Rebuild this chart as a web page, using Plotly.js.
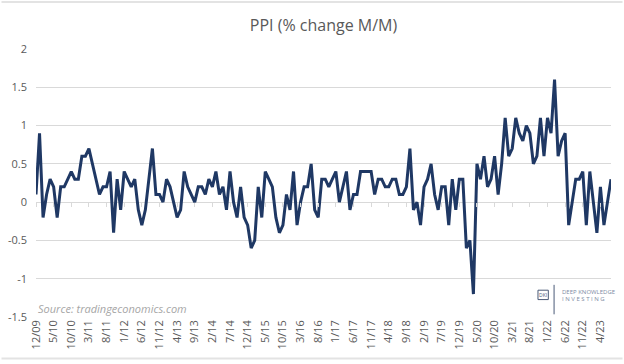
<!DOCTYPE html>
<html>
<head>
<meta charset="utf-8">
<script src="https://cdn.plot.ly/plotly-3.0.1.min.js"></script>
<style>html,body{margin:0;padding:0;background:#fff;}#chart{width:624px;height:364px;}</style>
</head>
<body>
<div id="chart"></div>
<script>
// Monthly categories, 12/09 .. 7/23
var months = [
 "12/09",
 "1/10","2/10","3/10","4/10","5/10","6/10","7/10","8/10","9/10","10/10","11/10","12/10",
 "1/11","2/11","3/11","4/11","5/11","6/11","7/11","8/11","9/11","10/11","11/11","12/11",
 "1/12","2/12","3/12","4/12","5/12","6/12","7/12","8/12","9/12","10/12","11/12","12/12",
 "1/13","2/13","3/13","4/13","5/13","6/13","7/13","8/13","9/13","10/13","11/13","12/13",
 "1/14","2/14","3/14","4/14","5/14","6/14","7/14","8/14","9/14","10/14","11/14","12/14",
 "1/15","2/15","3/15","4/15","5/15","6/15","7/15","8/15","9/15","10/15","11/15","12/15",
 "1/16","2/16","3/16","4/16","5/16","6/16","7/16","8/16","9/16","10/16","11/16","12/16",
 "1/17","2/17","3/17","4/17","5/17","6/17","7/17","8/17","9/17","10/17","11/17","12/17",
 "1/18","2/18","3/18","4/18","5/18","6/18","7/18","8/18","9/18","10/18","11/18","12/18",
 "1/19","2/19","3/19","4/19","5/19","6/19","7/19","8/19","9/19","10/19","11/19","12/19",
 "1/20","2/20","3/20","4/20","5/20","6/20","7/20","8/20","9/20","10/20","11/20","12/20",
 "1/21","2/21","3/21","4/21","5/21","6/21","7/21","8/21","9/21","10/21","11/21","12/21",
 "1/22","2/22","3/22","4/22","5/22","6/22","7/22","8/22","9/22","10/22","11/22","12/22",
 "1/23","2/23","3/23","4/23","5/23","6/23","7/23"
];

// PPI % change M/M
var ppi = [
 0.1,
 0.9,-0.2,0.1,0.3,0.2,-0.2,0.2,0.2,0.3,0.4,0.3,0.3,
 0.6,0.6,0.7,0.5,0.3,0.1,0.2,0.2,0.4,-0.4,0.3,-0.1,
 0.4,0.3,0.2,0.3,-0.1,-0.3,-0.1,0.3,0.7,0.1,0.1,0.0,
 0.3,0.2,0.0,-0.2,-0.1,0.4,0.2,0.1,0.0,0.2,0.2,0.1,
 0.3,0.2,0.4,0.1,0.2,-0.1,0.4,0.0,-0.2,0.2,-0.2,-0.3,
 -0.6,-0.5,0.2,-0.2,0.4,0.3,0.2,-0.2,-0.4,-0.3,0.1,-0.1,
 0.4,-0.3,0.0,0.2,0.2,0.5,-0.1,-0.2,0.3,0.3,0.2,0.3,
 0.4,0.0,0.2,0.4,-0.1,0.1,0.1,0.4,0.4,0.4,0.4,0.1,
 0.3,0.3,0.2,0.2,0.3,0.3,0.1,0.1,0.2,0.7,-0.1,0.0,
 -0.3,0.2,0.3,0.5,0.1,-0.1,0.2,0.2,-0.3,0.3,-0.1,0.3,
 0.3,-0.6,-0.5,-1.2,0.5,0.3,0.6,0.2,0.3,0.6,0.1,0.5,
 1.1,0.6,0.7,1.1,0.9,0.8,1.0,0.9,0.5,0.6,1.1,0.6,
 1.1,0.9,1.6,0.6,0.8,0.9,-0.3,0.0,0.3,0.3,0.4,-0.3,
 0.4,0.0,-0.4,0.2,-0.3,0.0,0.3
];

var tickLabels = ["12/09","5/10","10/10","3/11","8/11","1/12","6/12","11/12","4/13","9/13","2/14","7/14","12/14","5/15","10/15","3/16","8/16","1/17","6/17","11/17","4/18","9/18","2/19","7/19","12/19","5/20","10/20","3/21","8/21","1/22","6/22","11/22","4/23"];
var yTicks = [-1.5,-1,-0.5,0,0.5,1,1.5,2];
var yTickText = ["-1.5","-1","-0.5","0","0.5","1","1.5","2"];

var grey = "#595959";
var font = "Open Sans, Lato, sans-serif";

var traces = [
  {x: months, y: ppi, type: "scatter", mode: "lines", xaxis: "x", yaxis: "y",
   line: {color: "#1F3864", width: 3}, hoverinfo: "skip", showlegend: false},
  {x: months, y: ppi, type: "scatter", mode: "lines", xaxis: "x2", yaxis: "y",
   line: {color: "rgba(0,0,0,0)", width: 0}, hoverinfo: "skip", showlegend: false}
];

var layout = {
  width: 624, height: 364,
  margin: {l: 36, r: 13, t: 49, b: 47},
  paper_bgcolor: "#ffffff", plot_bgcolor: "#ffffff",
  font: {family: font, color: grey, size: 11},
  title: {text: "PPI (% change M/M)", x: 0.5, xanchor: "center", y: 0.93, yanchor: "middle",
          xref: "paper", font: {family: font, size: 16, color: grey}},
  xaxis: {type: "category", categoryorder: "array", categoryarray: months,
          range: [0, months.length - 1], tickmode: "array", tickvals: tickLabels, ticktext: tickLabels,
          tickangle: -90, showgrid: false, zeroline: false, showline: false, ticks: "",
          tickfont: {family: font, size: 11, color: grey}, fixedrange: true},
  xaxis2: {type: "category", categoryorder: "array", categoryarray: months, overlaying: "x",
           matches: "x", anchor: "free", position: 1.5/3.5, side: "bottom",
           range: [0, months.length - 1], tickmode: "array", tickvals: tickLabels,
           showticklabels: false, ticks: "outside", ticklen: 4, tickwidth: 1, tickcolor: "#d9d9d9",
           showgrid: false, zeroline: false, showline: false},
  yaxis: {range: [-1.5, 2], tickmode: "array", tickvals: yTicks, ticktext: yTickText,
          showgrid: true, gridcolor: "#d9d9d9", gridwidth: 1, zeroline: true, zerolinecolor: "#d9d9d9",
          zerolinewidth: 1, showline: false, ticks: "", ticklabelstandoff: 8,
          tickfont: {family: font, size: 11, color: grey}, fixedrange: true},
  shapes: [
    {type: "line", xref: "paper", yref: "paper", x0: -0.06, x1: 1.02, y0: 1.175, y1: 1.175,
     line: {color: "#e3e3e3", width: 2}},
    {type: "line", xref: "paper", yref: "paper", x0: -0.06, x1: 1.02, y0: -0.155, y1: -0.155,
     line: {color: "#e3e3e3", width: 2}},
    {type: "rect", xref: "paper", yref: "paper", x0: 0.873, x1: 0.891, y0: 0.065, y1: 0.10,
     line: {color: "#4a5a78", width: 1}},
    {type: "line", xref: "paper", yref: "paper", x0: 0.901, x1: 0.901, y0: 0.01, y1: 0.12,
     line: {color: "#4a5a78", width: 1}}
  ],
  annotations: [
    {text: "<i>Source: tradingeconomics.com</i>", xref: "paper", yref: "paper", x: 0.0, y: 0.03,
     xanchor: "left", yanchor: "middle", showarrow: false,
     font: {family: font, size: 11, color: "#a6a6a6"}},
    {text: "DKI", xref: "paper", yref: "paper", x: 0.882, y: 0.083, xanchor: "center", yanchor: "middle",
     showarrow: false, font: {family: font, size: 5, color: "#4a5a78"}},
    {text: "DEEP KNOWLEDGE", xref: "paper", yref: "paper", x: 0.911, y: 0.095, xanchor: "left", yanchor: "middle",
     showarrow: false, font: {family: font, size: 6, color: "#7d8aa3"}},
    {text: "I N V E S T I N G", xref: "paper", yref: "paper", x: 0.911, y: 0.068, xanchor: "left", yanchor: "middle",
     showarrow: false, font: {family: font, size: 6, color: "#7d8aa3"}}
  ]
};

Plotly.newPlot("chart", traces, layout, {displayModeBar: false, staticPlot: true});
</script>
</body>
</html>
